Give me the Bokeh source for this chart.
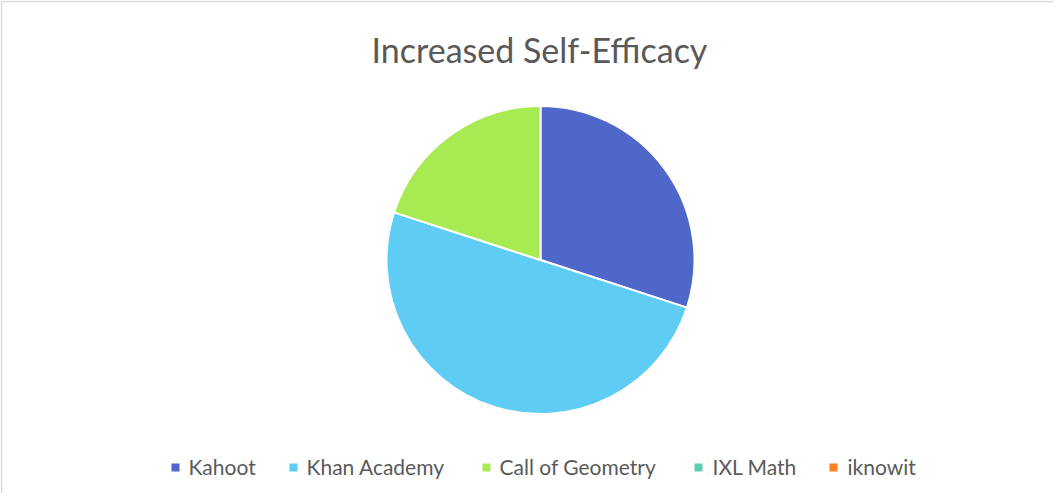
import math
from bokeh.plotting import figure
from bokeh.models import Range1d, ColumnDataSource
from bokeh.core.properties import value
from bokeh.embed import file_html
from bokeh.resources import INLINE

title = "Increased Self-Efficacy"
categories = ["Kahoot", "Khan Academy", "Call of Geometry", "IXL Math", "iknowit"]
values = [3, 5, 2, 0, 0]
colors = ["#4E67C8", "#5ECCF3", "#A7EA52", "#5DCEAF", "#FF8021"]

W, H = 1054, 493
p = figure(width=W, height=H, output_backend="svg", toolbar_location=None,
           x_range=Range1d(0, W), y_range=Range1d(0, H), min_border=0)
p.axis.visible = False
p.grid.visible = False
p.outline_line_color = None
p.background_fill_color = "white"

# chart-area frame (top and left edges only visible in the reference)
p.segment(x0=[1, 1], y0=[H - 1, H - 1], x1=[W, 1], y1=[H - 1, 0],
          line_color="#D9D9D9", line_width=1.5)

total = sum(values)
cats, cols, starts, ends = [], [], [], []
acc = 0.0
for c, v, col in zip(categories, values, colors):
    a0 = math.pi / 2 - 2 * math.pi * acc / total
    acc += v
    a1 = math.pi / 2 - 2 * math.pi * acc / total
    if v > 0:
        cats.append(c)
        cols.append(col)
        starts.append(a0)
        ends.append(a1)

src = ColumnDataSource(dict(cat=cats, color=cols, start=starts, end=ends))
cx, cy, r = 540, 233.5, 154
p.wedge(x=cx, y=cy, radius=r, start_angle="start", end_angle="end", direction="clock",
        fill_color="color", line_color="white", line_width=2, source=src)

p.text(x=[539], y=[444], text=[title], text_align="center", text_baseline="alphabetic",
       text_font=value("Lato"), text_font_size="34px", text_color="#595959")

# legend
leg_sq_x = [175, 293, 486, 698, 833]
leg_tx_x = [188, 306, 499, 712, 847]
p.rect(x=leg_sq_x, y=[26] * 5, width=8, height=8, fill_color=colors, line_color=None)
p.text(x=leg_tx_x, y=[27] * 5, text=categories, text_align="left", text_baseline="alphabetic",
       text_font=value("Lato"), text_font_size="21px", text_color="#595959")

open("out.html", "w").write(file_html(p, INLINE))
